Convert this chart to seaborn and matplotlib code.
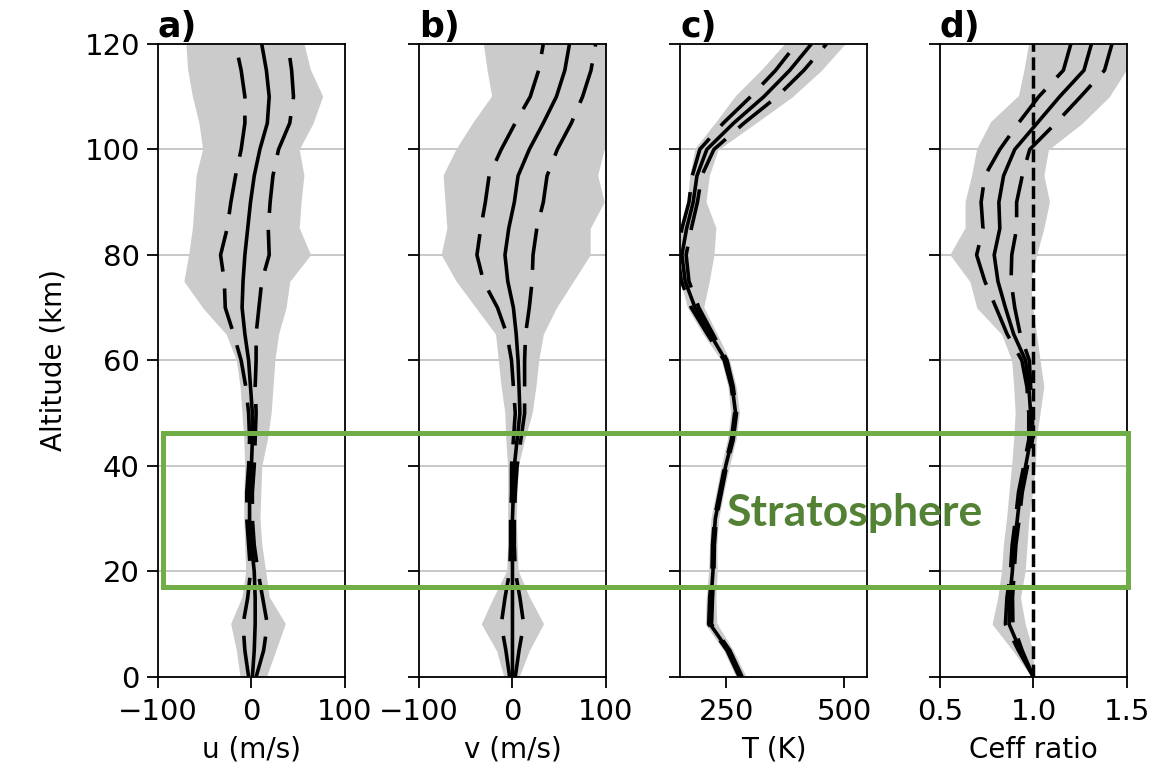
import numpy as np
import pandas as pd
import matplotlib
matplotlib.use('Agg')
import matplotlib.pyplot as plt
import seaborn as sns
from matplotlib.patches import Rectangle

# altitude levels (km)
alt = list(range(0, 121, 5))

# a) u (m/s): ensemble mean, std, and min/max envelope
u_mean = [1, 3, 4, 4, 3, 0, -2, -2, 0, 1, 1, -1, -3, -7, -10, -9, -7, -4, -1, 3, 9, 17, 19, 16, 11]
u_std = [4, 10, 13, 8, 4, 3, 3, 3, 3, 3, 4, 5, 8, 12, 18, 20, 26, 22, 21, 20, 20, 24, 26, 27, 28]
u_lo = [-10, -14, -20, -8, -4, -5, -6, -6, -5, -6, -8, -10, -14, -25, -50, -70, -65, -61, -59, -57, -50, -54, -61, -66, -68]
u_hi = [15, 25, 35, 18, 14, 10, 8, 9, 10, 16, 20, 22, 24, 28, 36, 40, 62, 50, 52, 55, 50, 65, 75, 62, 55]

# b) v (m/s)
v_mean = [0, 0, 0, 0, 0, 0, 0, 1, 2, 5, 8, 7, 6, 4, 1, -5, -8, -4, 2, 6, 18, 33, 47, 56, 61]
v_std = [3, 7, 12, 8, 3, 2, 2, 2, 3, 4, 5, 6, 7, 10, 17, 26, 30, 30, 31, 31, 30, 30, 28, 28, 28]
v_lo = [-7, -15, -31, -18, -4, -3, -3, -3, -3, -5, -6, -10, -13, -16, -37, -58, -74, -68, -70, -72, -58, -40, -20, -25, -29]
v_hi = [6, 17, 32, 17, 5, 4, 3, 4, 5, 12, 20, 24, 27, 32, 46, 64, 82, 82, 97, 90, 97, 105, 105, 105, 105]

# c) T (K)
t_mean = [281, 255, 216, 218, 222, 223, 227, 238, 249, 263, 270, 263, 249, 216, 184, 163, 156, 166, 180, 188, 209, 266, 330, 385, 431]
t_std = [3, 3, 3, 3, 2, 2, 2, 2, 2, 2, 2, 2, 3, 6, 8, 8, 9, 10, 9, 10, 15, 22, 28, 30, 32]
t_lo = [275, 249, 210, 212, 217, 219, 222, 233, 244, 257, 264, 258, 244, 205, 172, 157, 150, 158, 172, 177, 188, 232, 274, 330, 380]
t_hi = [290, 262, 228, 226, 229, 228, 232, 243, 255, 269, 276, 269, 255, 228, 200, 212, 222, 226, 205, 212, 231, 310, 388, 450, 500]

# d) Ceff ratio
c_mean = [1.0, 0.93, 0.87, 0.873, 0.887, 0.896, 0.914, 0.93, 0.958, 0.985, 0.985, 0.975, 0.958, 0.894, 0.85, 0.81, 0.79, 0.82, 0.815, 0.84, 0.9, 1.02, 1.14, 1.27, 1.31]
c_std = [0.0, 0.01, 0.02, 0.015, 0.01, 0.01, 0.01, 0.01, 0.01, 0.01, 0.01, 0.01, 0.02, 0.035, 0.05, 0.07, 0.094, 0.09, 0.095, 0.1, 0.08, 0.1, 0.112, 0.11, 0.11]
c_lo = [1.0, 0.9, 0.79, 0.82, 0.84, 0.85, 0.867, 0.88, 0.894, 0.905, 0.913, 0.905, 0.894, 0.84, 0.707, 0.67, 0.565, 0.645, 0.645, 0.68, 0.707, 0.78, 0.93, 0.96, 0.985]
c_hi = [1.0, 0.99, 0.95, 0.925, 0.95, 0.96, 0.97, 0.99, 1.005, 1.01, 1.03, 1.05, 1.03, 1.01, 0.99, 0.98, 1.012, 1.05, 1.08, 1.05, 1.075, 1.255, 1.4, 1.49, 1.5]

sns.set_style('ticks')
plt.rcParams['font.family'] = ['DejaVu Sans']
plt.rcParams['font.size'] = 20
for key in ['text.color', 'axes.labelcolor', 'xtick.color', 'ytick.color', 'axes.edgecolor']:
    plt.rcParams[key] = 'black'

fig = plt.figure(figsize=(11.7, 7.72), dpi=100)
lefts = [0.1350, 0.3581, 0.5812, 0.8034]
axes = [fig.add_axes([l, 0.1231, 0.1598, 0.820]) for l in lefts]

panels = [
    ('a)', 'u (m/s)', u_mean, u_std, u_lo, u_hi, (-100, 100), [-100, 0, 100]),
    ('b)', 'v (m/s)', v_mean, v_std, v_lo, v_hi, (-100, 100), [-100, 0, 100]),
    ('c)', 'T (K)', t_mean, t_std, t_lo, t_hi, (152, 549), [250, 500]),
    ('d)', 'Ceff ratio', c_mean, c_std, c_lo, c_hi, (0.5, 1.5), [0.5, 1.0, 1.5]),
]

gray = '#cbcbcb'
for ax, (title, xlabel, mean, std, lo, hi, xlim, xticks) in zip(axes, panels):
    mean = np.array(mean)
    std = np.array(std)
    # ensemble envelope
    ax.fill_betweenx(alt, lo, hi, color=gray, lw=0, zorder=1)
    env = pd.DataFrame({'alt': alt * 2, 'val': list(lo) + list(hi),
                        'edge': ['lo'] * len(alt) + ['hi'] * len(alt)})
    sns.lineplot(data=env, x='val', y='alt', units='edge', estimator=None,
                 sort=False, color=gray, lw=2.2, ax=ax, zorder=2)
    # mean and +/- one std
    stats = pd.DataFrame({'alt': alt * 3,
                          'val': list(mean) + list(mean - std) + list(mean + std),
                          'kind': ['mean'] * len(alt) + ['lo'] * len(alt) + ['hi'] * len(alt)})
    sns.lineplot(data=stats, x='val', y='alt', style='kind', estimator=None, sort=False,
                 dashes={'mean': '', 'lo': (11.5, 4.7), 'hi': (11.5, 4.7)},
                 color='black', lw=2.6, ax=ax, legend=False, zorder=3)
    if title == 'd)':
        ax.axvline(1.0, color='black', ls='--', lw=2.5, zorder=4)

    ax.set_xlim(xlim)
    ax.set_xticks(xticks)
    ax.set_ylim(0, 120)
    ax.set_yticks(range(0, 121, 20))
    ax.yaxis.grid(True, color='#bdbdbd', lw=1.2)
    ax.set_axisbelow(True)
    ax.set_xlabel(xlabel, labelpad=7)
    ax.set_ylabel('')
    ax.set_title(title, loc='left', fontweight='bold', fontsize=25, pad=1)
    ax.tick_params(direction='out', length=8, width=1.3, color='black', labelsize=21)
    ax.tick_params(axis='x', pad=7)
    ax.tick_params(axis='y', pad=5)
    for sp in ax.spines.values():
        sp.set_visible(True)
        sp.set_color('black')
        sp.set_linewidth(1.3)
    if title != 'a)':
        ax.set_yticklabels([])

axes[0].set_ylabel('Altitude (km)', labelpad=12)

# stratosphere box across panels
fig.add_artist(Rectangle((0.139, 0.2396), 0.825, 0.1995, transform=fig.transFigure,
                         fill=False, edgecolor='#70AD47', lw=3.6, zorder=10))
fig.text(0.621, 0.3355, 'Stratosphere', color='#548235', fontsize=32,
         fontweight='bold', family=['Lato', 'DejaVu Sans'], va='center', ha='left')

fig.savefig('out.png', dpi=100)
